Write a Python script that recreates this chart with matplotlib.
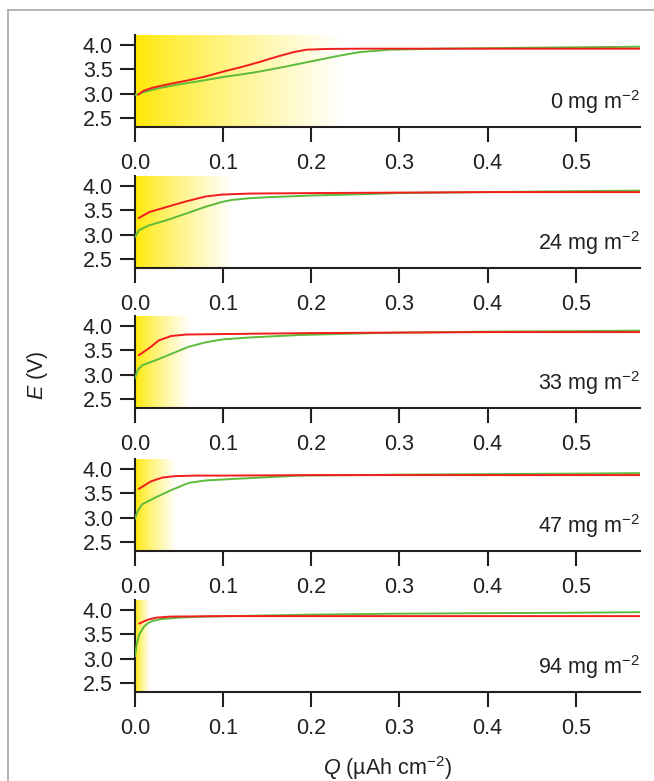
import numpy as np
import matplotlib
matplotlib.use("Agg")
import matplotlib.pyplot as plt
from matplotlib.lines import Line2D

plt.rcParams['font.family'] = ['Liberation Sans', 'DejaVu Sans']
plt.rcParams['mathtext.fontset'] = 'custom'
plt.rcParams['mathtext.rm'] = 'Liberation Sans'
plt.rcParams['mathtext.it'] = 'Liberation Sans:italic'

# loadings (mg m^-2) and extent of the shaded region on Q
loadings = [0, 24, 33, 47, 94]
shade_end = [0.236, 0.111, 0.062, 0.046, 0.016]

# red curves: Q (uAh cm^-2), E (V)
red_q = [
    [0.004, 0.01, 0.02, 0.04, 0.06, 0.08, 0.10, 0.12, 0.14, 0.16, 0.18, 0.195, 0.22, 0.26, 0.35, 0.45, 0.573],
    [0.0045, 0.016, 0.035, 0.058, 0.080, 0.099, 0.13, 0.2, 0.3, 0.4, 0.5, 0.573],
    [0.0045, 0.016, 0.027, 0.041, 0.058, 0.1, 0.2, 0.3, 0.4, 0.5, 0.573],
    [0.0045, 0.018, 0.031, 0.046, 0.07, 0.1, 0.2, 0.3, 0.4, 0.5, 0.573],
    [0.005, 0.015, 0.025, 0.04, 0.07, 0.1, 0.2, 0.3, 0.4, 0.5, 0.573],
]
red_e = [
    [2.98, 3.06, 3.12, 3.20, 3.27, 3.35, 3.45, 3.54, 3.64, 3.75, 3.85, 3.90, 3.915, 3.92, 3.92, 3.92, 3.92],
    [3.34, 3.46, 3.56, 3.68, 3.78, 3.82, 3.84, 3.85, 3.86, 3.87, 3.87, 3.87],
    [3.40, 3.54, 3.70, 3.79, 3.82, 3.83, 3.85, 3.86, 3.87, 3.87, 3.87],
    [3.59, 3.74, 3.82, 3.85, 3.86, 3.86, 3.87, 3.87, 3.87, 3.87, 3.87],
    [3.72, 3.80, 3.84, 3.86, 3.865, 3.87, 3.87, 3.87, 3.87, 3.87, 3.87],
]

# green curves
green_q = [
    [0.0, 0.01, 0.027, 0.05, 0.075, 0.1, 0.12, 0.141, 0.17, 0.2, 0.23, 0.255, 0.29, 0.35, 0.45, 0.573],
    [0.0, 0.0045, 0.016, 0.035, 0.058, 0.080, 0.099, 0.11, 0.13, 0.15, 0.2, 0.243, 0.3, 0.4, 0.5, 0.573],
    [0.0, 0.003, 0.008, 0.023, 0.042, 0.061, 0.080, 0.099, 0.13, 0.186, 0.25, 0.3, 0.4, 0.5, 0.573],
    [0.0, 0.003, 0.008, 0.023, 0.042, 0.061, 0.080, 0.11, 0.186, 0.25, 0.3, 0.4, 0.5, 0.573],
    [0.0, 0.002, 0.005, 0.01, 0.015, 0.02, 0.03, 0.05, 0.08, 0.2, 0.3, 0.4, 0.5, 0.573],
]
green_e = [
    [2.97, 3.03, 3.11, 3.19, 3.26, 3.34, 3.39, 3.45, 3.55, 3.66, 3.77, 3.85, 3.90, 3.92, 3.94, 3.96],
    [2.95, 3.09, 3.19, 3.29, 3.43, 3.57, 3.67, 3.71, 3.745, 3.765, 3.80, 3.82, 3.85, 3.87, 3.89, 3.90],
    [2.93, 3.09, 3.19, 3.29, 3.43, 3.57, 3.66, 3.72, 3.76, 3.81, 3.84, 3.86, 3.88, 3.89, 3.90],
    [2.98, 3.13, 3.27, 3.41, 3.57, 3.71, 3.76, 3.79, 3.86, 3.87, 3.88, 3.89, 3.90, 3.91],
    [3.05, 3.30, 3.50, 3.65, 3.73, 3.77, 3.81, 3.84, 3.86, 3.90, 3.92, 3.93, 3.94, 3.95],
]

xticks = [0.0, 0.1, 0.2, 0.3, 0.4, 0.5]
yticks = [2.5, 3.0, 3.5, 4.0]
xlim = (0, 0.573)
ylim = (2.315, 4.2)

W, H = 654, 781
fig = plt.figure(figsize=(W / 100, H / 100), dpi=100)

# panel bottoms in pixels from the top of the figure
left_px, right_px, panel_h = 135, 640, 92
bottoms_px = [127, 268, 408, 551, 692]

yellow = np.array([1.0, 0.91, 0.0])
white = np.array([1.0, 1.0, 1.0])
t = np.linspace(0, 1, 300) ** 0.8
grad = (yellow[None, :] * (1 - t[:, None]) + white[None, :] * t[:, None])[None, :, :]

fs = 15.5
ink = '#231f20'

for i, load in enumerate(loadings):
    b = bottoms_px[i]
    ax = fig.add_axes([left_px / W, 1 - b / H, (right_px - left_px) / W, panel_h / H])
    ax.imshow(grad, extent=[0, shade_end[i], ylim[0], ylim[1]], aspect='auto',
              interpolation='bilinear', zorder=0)
    ax.plot(green_q[i], green_e[i], color='#5dbb3c', lw=1.4, zorder=3)
    ax.plot(red_q[i], red_e[i], color='#f21c1c', lw=1.4, zorder=4)
    ax.set_xlim(*xlim)
    ax.set_ylim(*ylim)
    ax.set_xticks(xticks)
    ax.set_xticklabels([f"{v:.1f}" for v in xticks])
    ax.set_yticks(yticks)
    ax.set_yticklabels([f"{v:.1f}" for v in yticks])
    for s in ['top', 'right']:
        ax.spines[s].set_visible(False)
    for s in ['left', 'bottom']:
        ax.spines[s].set_linewidth(1.5)
        ax.spines[s].set_color(ink)
    ax.tick_params(direction='out', length=11, width=1.5, color=ink,
                   labelsize=fs, labelcolor=ink)
    ax.tick_params(axis='x', pad=7.5)
    ax.tick_params(axis='y', pad=5)
    ax.text(1.0, 0.27, f"{load} mg m$^{{\\mathregular{{-2}}}}$", transform=ax.transAxes,
            ha='right', va='center', fontsize=fs, color=ink)

fig.text(37 / W, 1 - 375 / H, "$E$ (V)", rotation=90, ha='center', va='center',
         fontsize=fs, color=ink)
fig.text((left_px + right_px) / 2 / W, 1 - 768 / H, "$Q$ (\u00b5Ah cm$^{\\mathregular{-2}}$)",
         ha='center', va='center', fontsize=fs, color=ink)

# outer frame (top and left edges)
fig.add_artist(Line2D([8 / W, 1.05], [1 - 10 / H, 1 - 10 / H], color='#a8a8a8', lw=1.2))
fig.add_artist(Line2D([8 / W, 8 / W], [1 - 10 / H, -0.05], color='#a8a8a8', lw=1.2))

fig.savefig("out.png", dpi=100)
